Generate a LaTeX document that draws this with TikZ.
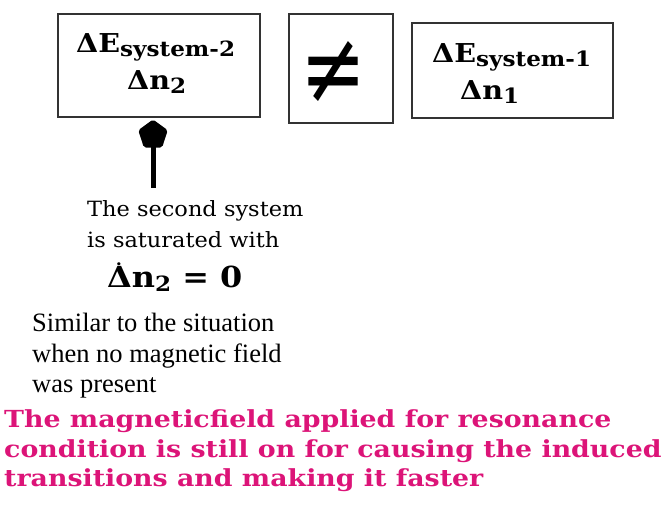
\documentclass[tikz,border=0pt]{standalone}
\usepackage{fontspec}
\setmainfont{Liberation Serif}
\newfontfamily\bk{DejaVu Serif}
\newfontfamily\bkb[FakeStretch=1.1]{DejaVu Serif Bold}
\newfontfamily\bkn[FakeStretch=1.07]{DejaVu Serif}
\newfontfamily\bkp[FakeStretch=1.14]{DejaVu Serif Bold}
\newfontfamily\symf{DejaVu Sans}
\usetikzlibrary{shapes.geometric}
\definecolor{mag}{RGB}{220,20,120}
\begin{document}
\begin{tikzpicture}[x=1pt,y=1pt,
  box/.style={draw=black!80, line width=1.6pt, inner sep=0pt},
  txt/.style={anchor=base west, inner sep=0pt},
  boxlbl/.style={txt, font=\bkb\fontsize{26}{26}\selectfont},
  small/.style={txt, font=\bkn\fontsize{21}{21}\selectfont},
  plain/.style={txt, font=\fontsize{26.5}{26.5}\selectfont},
  pink/.style={txt, text=mag, font=\bkp\fontsize{23.5}{23.5}\selectfont}]
\useasboundingbox (0,0) rectangle (665,506);
\newcommand{\subtx}[1]{\raisebox{-4pt}{\fontsize{21}{21}\selectfont #1}}
% boxes
\node[box, minimum width=202pt, minimum height=103pt] (b1) at (159,440.5) {};
\node[box, minimum width=104pt, minimum height=109pt] (b2) at (341,437.5) {};
\node[box, minimum width=201pt, minimum height=95pt] (b3) at (512.5,435.5) {};
% box texts
\node[boxlbl] (e2) at (76,453) {ΔE\subtx{system-2}};
\node[boxlbl] (n2) at (127,416) {Δn\subtx{2}};
\node[inner sep=0pt] (neq) at (334,433.5) {\resizebox{66pt}{62pt}{\symf ≠}};
\node[boxlbl] (e1) at (432,443) {ΔE\subtx{system-1}};
\node[boxlbl] (n1) at (460,406) {Δn\subtx{1}};
% arrow
\coordinate (tail) at (153,318);
\node[regular polygon, regular polygon sides=5, fill=black, minimum size=31pt, inner sep=0pt, rounded corners=2pt] (head) at (153,371) {};
\draw[line width=5pt] (tail) -- (head.center);
% annotations
\node[small] (a1) at (87,289) {The second system};
\node[small] (a2) at (87,258) {is saturated with};
\node[boxlbl, font=\bkb\fontsize{29}{29}\selectfont] (a3) at (107,218) {\rlap{\hspace{0.3em}\raisebox{0.78em}{\fontsize{16}{16}\selectfont .}}Δn\subtx{2} = 0};
\node[plain] (s1) at (32,174) {Similar to the situation};
\node[plain] (s2) at (32,143) {when no magnetic field};
\node[plain] (s3) at (32,113) {was present};
\node[pink] (m1) at (4,78) {The magneticfield applied for resonance};
\node[pink] (m2) at (4,48) {condition is still on for causing the induced};
\node[pink] (m3) at (4,19) {transitions and making it faster};
\end{tikzpicture}
\end{document}
